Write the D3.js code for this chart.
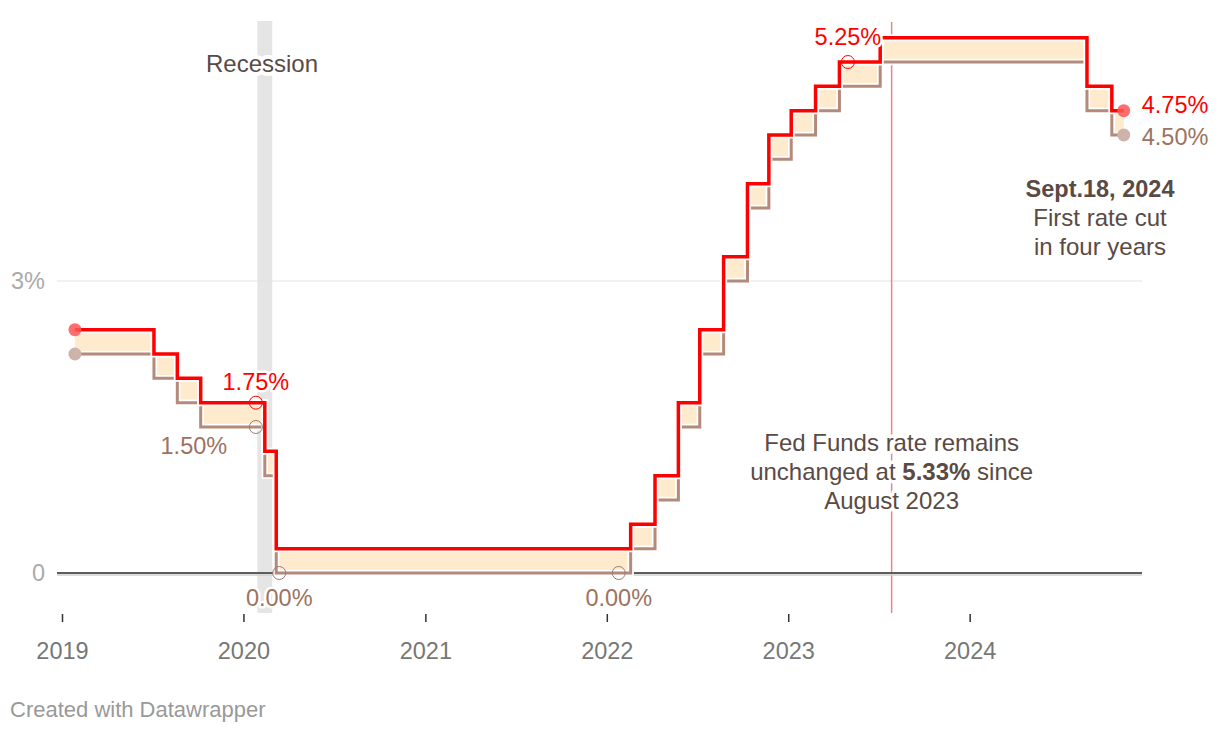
<!DOCTYPE html>
<html>
<head>
<meta charset="utf-8">
<script src="https://cdn.jsdelivr.net/npm/d3@7"></script>
<style>
  html, body { margin: 0; padding: 0; background: #fff; }
  svg { display: block; font-family: "Liberation Sans", Arial, Helvetica, sans-serif; }
  .halo { paint-order: stroke; stroke: #fff; stroke-linejoin: round; }
</style>
</head>
<body>
<svg id="chart" width="1220" height="732"></svg>
<script>
// ---- data ----
const stepDates = ["2019-01-27","2019-07-05","2019-08-21","2019-10-07","2020-02-13","2020-03-07",
  "2022-02-18","2022-04-08","2022-05-25","2022-07-07","2022-08-24","2022-10-11","2022-11-23",
  "2023-01-07","2023-02-25","2023-04-14","2023-07-05","2024-08-24","2024-10-13","2024-11-06"];
const upperRate = [2.5,2.25,2.0,1.75,1.25,0.25,0.5,1.0,1.75,2.5,3.25,4.0,4.5,4.75,5.0,5.25,5.5,5.0,4.75,4.75];
const lowerRate = [2.25,2.0,1.75,1.5,1.0,0,0.25,0.75,1.5,2.25,3.0,3.75,4.25,4.5,4.75,5.0,5.25,4.75,4.5,4.5];

const xTickYears = ["2019","2020","2021","2022","2023","2024"];
const yTicks = [0, 3];
const yTickLabels = ["0", "3%"];

const recession = ["2020-01-29", "2020-02-28"];
const holdLineDate = "2023-07-28";

// highlighted values
const markDates  = ["2020-01-26","2020-01-26","2020-03-13","2022-01-25","2023-05-01"];
const markValues = [1.75, 1.5, 0, 0, 5.25];
const markSeries = ["upper","lower","lower","lower","upper"];
const markLabels = ["1.75%","1.50%","0.00%","0.00%","5.25%"];

const annoLines = ["Fed Funds rate remains", "unchanged at ", "August 2023"];
const cutLines = ["Sept.18, 2024", "First rate cut", "in four years"];

// ---- setup ----
const parse = d3.timeParse("%Y-%m-%d");
const data = stepDates.map((d, i) => ({ date: parse(d), hi: upperRate[i], lo: lowerRate[i] }));

const svg = d3.select("#chart");
const RED = "#ff0000", BROWN = "#b38a7b", BROWN_TXT = "#9c7261", FILL = "#feeacd", TXT = "#5a4a44";
const FS = 23.5;

const x = d3.scaleTime()
  .domain([parse("2019-01-01"), parse("2025-01-01")])
  .range([62, 1151.6]);
const y = d3.scaleLinear().domain([0, 3]).range([573, 281]);
const plotL = 57, plotR = 1142;

// recession band
svg.append("rect")
  .attr("x", x(parse(recession[0])))
  .attr("width", x(parse(recession[1])) - x(parse(recession[0])))
  .attr("y", 21).attr("height", 592)
  .attr("fill", "#e5e5e5");

// gridlines
svg.selectAll("line.grid").data(yTicks.filter(d => d !== 0)).enter().append("line")
  .attr("x1", plotL).attr("x2", plotR)
  .attr("y1", d => y(d)).attr("y2", d => y(d))
  .attr("stroke", "#e3e3e3").attr("stroke-width", 1.2);

// y tick labels
svg.selectAll("text.ytick").data(yTicks).enter().append("text")
  .attr("x", 45).attr("y", d => y(d) + 8)
  .attr("text-anchor", "end")
  .attr("font-size", FS).attr("fill", "#aaaaaa")
  .text((d, i) => yTickLabels[i]);

// hold vertical line
svg.append("line")
  .attr("x1", x(parse(holdLineDate))).attr("x2", x(parse(holdLineDate)))
  .attr("y1", 22).attr("y2", 613)
  .attr("stroke", "#e8868a").attr("stroke-width", 1.5);

// fill between
const area = d3.area().curve(d3.curveStepAfter)
  .x(d => x(d.date)).y0(d => y(d.lo)).y1(d => y(d.hi));
svg.append("path").datum(data).attr("d", area).attr("fill", FILL);

// zero baseline
svg.append("line").attr("x1", plotL).attr("x2", plotR)
  .attr("y1", y(0) + 2).attr("y2", y(0) + 2)
  .attr("stroke", "#d0d0d0").attr("stroke-width", 1.5);
svg.append("line").attr("x1", plotL).attr("x2", plotR)
  .attr("y1", y(0)).attr("y2", y(0))
  .attr("stroke", "#5e5e5e").attr("stroke-width", 2);

// lines
const lineLo = d3.line().curve(d3.curveStepAfter).x(d => x(d.date)).y(d => y(d.lo));
const lineHi = d3.line().curve(d3.curveStepAfter).x(d => x(d.date)).y(d => y(d.hi));
svg.append("path").datum(data).attr("d", lineLo).attr("fill", "none")
  .attr("stroke", "#fff").attr("stroke-width", 6.5);
svg.append("path").datum(data).attr("d", lineLo).attr("fill", "none")
  .attr("stroke", BROWN).attr("stroke-width", 3);
svg.append("path").datum(data).attr("d", lineHi).attr("fill", "none")
  .attr("stroke", "#fff").attr("stroke-width", 7);
svg.append("path").datum(data).attr("d", lineHi).attr("fill", "none")
  .attr("stroke", RED).attr("stroke-width", 3.5);

// start / end dots
const first = data[0], last = data[data.length - 1];
[first, last].forEach(d => {
  svg.append("circle").attr("cx", x(d.date)).attr("cy", y(d.hi)).attr("r", 6.5)
    .attr("fill", "#ff5555").attr("opacity", 0.85);
  svg.append("circle").attr("cx", x(d.date)).attr("cy", y(d.lo)).attr("r", 6.5)
    .attr("fill", "#cdb3a9");
});

// open circles
markDates.forEach((d, i) => {
  svg.append("circle")
    .attr("cx", x(parse(d))).attr("cy", y(markValues[i])).attr("r", 6.5)
    .attr("fill", "none")
    .attr("stroke", markSeries[i] === "upper" ? RED : "#9c7b70")
    .attr("stroke-width", 1);
});

// value labels
const labelOffsets = [[0, -13], [-62, 27], [0, 33], [0, 33], [0, -17]];
markDates.forEach((d, i) => {
  svg.append("text").attr("class", "halo")
    .attr("x", x(parse(d)) + labelOffsets[i][0])
    .attr("y", y(markValues[i]) + labelOffsets[i][1])
    .attr("text-anchor", "middle")
    .attr("font-size", FS)
    .attr("stroke-width", 5)
    .attr("fill", markSeries[i] === "upper" ? RED : BROWN_TXT)
    .text(markLabels[i]);
});

// end labels
svg.append("text").attr("class", "halo")
  .attr("x", x(last.date) + 18).attr("y", y(last.hi) + 2)
  .attr("font-size", FS).attr("stroke-width", 4).attr("fill", RED)
  .text(d3.format(".2f")(last.hi) + "%");
svg.append("text").attr("class", "halo")
  .attr("x", x(last.date) + 18).attr("y", y(last.lo) + 10)
  .attr("font-size", FS).attr("stroke-width", 4).attr("fill", BROWN_TXT)
  .text(d3.format(".2f")(last.lo) + "%");

// recession label
svg.append("text").attr("class", "halo")
  .attr("x", 262).attr("y", 72)
  .attr("text-anchor", "middle").attr("font-size", 24)
  .attr("stroke-width", 8).attr("fill", TXT)
  .text("Recession");

// hold annotation
const ax = x(parse(holdLineDate));
const anno = svg.append("text").attr("class", "halo")
  .attr("text-anchor", "middle").attr("font-size", 24)
  .attr("stroke-width", 7).attr("fill", TXT);
anno.append("tspan").attr("x", ax).attr("y", 451).text(annoLines[0]);
const l2 = anno.append("tspan").attr("x", ax).attr("y", 480);
l2.append("tspan").text(annoLines[1]);
l2.append("tspan").attr("font-weight", "bold").text("5.33%");
l2.append("tspan").text(" since");
anno.append("tspan").attr("x", ax).attr("y", 509).text(annoLines[2]);

// cut annotation
const cx = 1100;
const cut = svg.append("text").attr("text-anchor", "middle").attr("font-size", 23.5).attr("fill", TXT);
cut.append("tspan").attr("x", cx).attr("y", 197).attr("font-weight", "bold").text(cutLines[0]);
cut.append("tspan").attr("x", cx).attr("y", 226).attr("font-size", 24).text(cutLines[1]);
cut.append("tspan").attr("x", cx).attr("y", 255).attr("font-size", 24).text(cutLines[2]);

// x axis
const xAxis = d3.axisBottom(x)
  .tickValues(xTickYears.map(yy => parse(yy + "-01-01")))
  .tickFormat(d3.timeFormat("%Y"))
  .tickSize(8).tickPadding(20);
const gx = svg.append("g").attr("transform", "translate(0,614)").call(xAxis);
gx.select(".domain").remove();
gx.selectAll(".tick line").attr("stroke", "#333").attr("stroke-width", 1.5);
gx.selectAll(".tick text").attr("font-size", FS).attr("fill", "#777")
  .attr("font-family", "'Liberation Sans', Arial, sans-serif");

// footer
svg.append("text").attr("x", 10).attr("y", 717)
  .attr("font-size", 22).attr("fill", "#999")
  .text("Created with Datawrapper");
</script>
</body>
</html>
